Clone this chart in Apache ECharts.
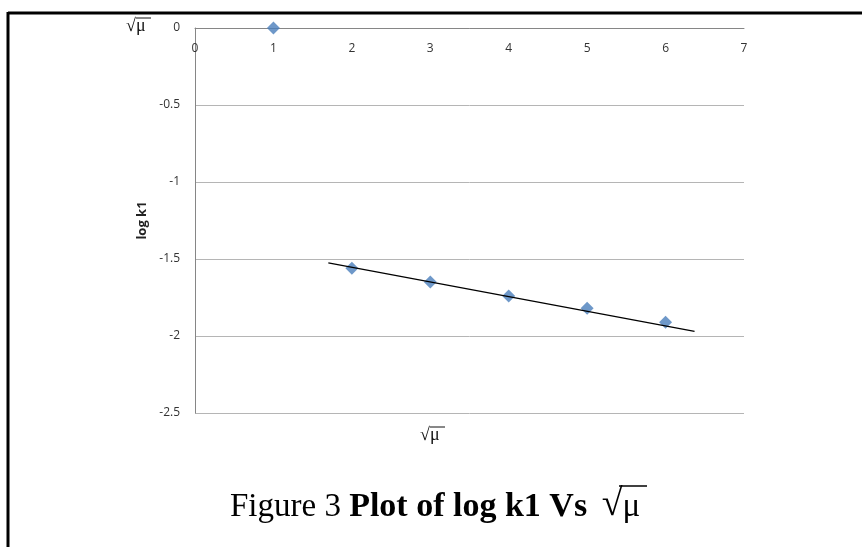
<!DOCTYPE html>
<html>
<head>
<meta charset="utf-8">
<script src="https://cdn.jsdelivr.net/npm/echarts@6/dist/echarts.min.js"></script>
<style>
  html, body { margin: 0; padding: 0; background: #fff; }
  #chart { width: 862px; height: 547px; }
</style>
</head>
<body>
<div id="chart"></div>
<script>
// data
const sqrtMu = [1, 2, 3, 4, 5, 6]
const logK1 = [0, -1.56, -1.65, -1.74, -1.82, -1.91]
// linear trend line, ends as drawn (extended a bit past the points)
const trendX = [1.7, 6.37]
const trendY = [-1.525, -1.97]

const chart = echarts.init(document.getElementById('chart'))

const axisGray = '#868686'
const gridGray = '#b5b5b5'
const labelStyle = {
  color: '#333',
  fontSize: 12,
  fontFamily: 'Open Sans'
}

const option = {
  backgroundColor: '#fff',
  animation: false,
  title: {
    left: 230,
    top: 486,
    padding: 0,
    text: '{n|Figure 3 }{b|Plot of log k1 Vs }{s|√}{m|μ}',
    textStyle: {
      rich: {
        n: { fontFamily: 'Liberation Serif', fontSize: 33, fontWeight: 'normal', color: '#000', verticalAlign: 'bottom' },
        b: { fontFamily: 'Liberation Serif', fontSize: 34, fontWeight: 'bold', color: '#000', verticalAlign: 'bottom' },
        s: { fontFamily: 'Liberation Serif', fontSize: 38, fontWeight: 'normal', color: '#000', padding: [0, 0, 0, 6], verticalAlign: 'bottom' },
        m: { fontFamily: 'Liberation Serif', fontSize: 33, fontWeight: 'normal', color: '#000', verticalAlign: 'bottom' }
      }
    }
  },
  grid: {
    left: 195,
    right: 118,
    top: 28,
    bottom: 134
  },
  xAxis: {
    type: 'value',
    position: 'top',
    min: 0,
    max: 7,
    interval: 1,
    axisLine: { show: true, lineStyle: { color: axisGray, width: 1 } },
    axisTick: { show: false },
    axisLabel: Object.assign({ inside: true, margin: 15 }, labelStyle),
    splitLine: { show: false }
  },
  yAxis: {
    type: 'value',
    min: -2.5,
    max: 0,
    interval: 0.5,
    name: 'log k1',
    nameLocation: 'middle',
    nameGap: 46,
    nameTextStyle: {
      fontFamily: 'Open Sans',
      fontSize: 13,
      fontWeight: 'bold',
      color: '#222'
    },
    axisLine: { show: true, lineStyle: { color: axisGray, width: 1 } },
    axisTick: { show: false },
    axisLabel: Object.assign({ margin: 15 }, labelStyle),
    splitLine: { show: true, lineStyle: { color: gridGray, width: 1 } }
  },
  series: [
    {
      name: 'trend',
      type: 'line',
      data: trendX.map((x, i) => [x, trendY[i]]),
      symbol: 'none',
      lineStyle: { color: '#000', width: 1.2 },
      z: 3
    },
    {
      name: 'log k1',
      type: 'scatter',
      data: sqrtMu.map((x, i) => [x, logK1[i]]),
      symbol: 'diamond',
      symbolSize: 13,
      itemStyle: { color: '#4A7EBB' },
      z: 2
    }
  ],
  graphic: [
    // page frame
    { type: 'line', shape: { x1: 8, y1: 13, x2: 862, y2: 13 }, style: { stroke: '#000', lineWidth: 3 } },
    { type: 'line', shape: { x1: 8, y1: 12, x2: 8, y2: 547 }, style: { stroke: '#000', lineWidth: 3 } },
    // stray √μ label top-left
    { type: 'text', left: 126, top: 17, style: { text: '√μ', font: '18px "Liberation Serif"', fill: '#111' } },
    { type: 'line', shape: { x1: 136, y1: 18, x2: 151, y2: 18 }, style: { stroke: '#111', lineWidth: 1 } },
    // x axis title
    { type: 'text', left: 420, top: 426, style: { text: '√μ', font: '18px "Liberation Serif"', fill: '#111' } },
    { type: 'line', shape: { x1: 430, y1: 427, x2: 445, y2: 427 }, style: { stroke: '#111', lineWidth: 1 } },
    // overline of the title radical
    { type: 'line', shape: { x1: 619, y1: 486, x2: 647, y2: 486 }, style: { stroke: '#000', lineWidth: 1.5 } }
  ]
}

chart.setOption(option)
</script>
</body>
</html>
